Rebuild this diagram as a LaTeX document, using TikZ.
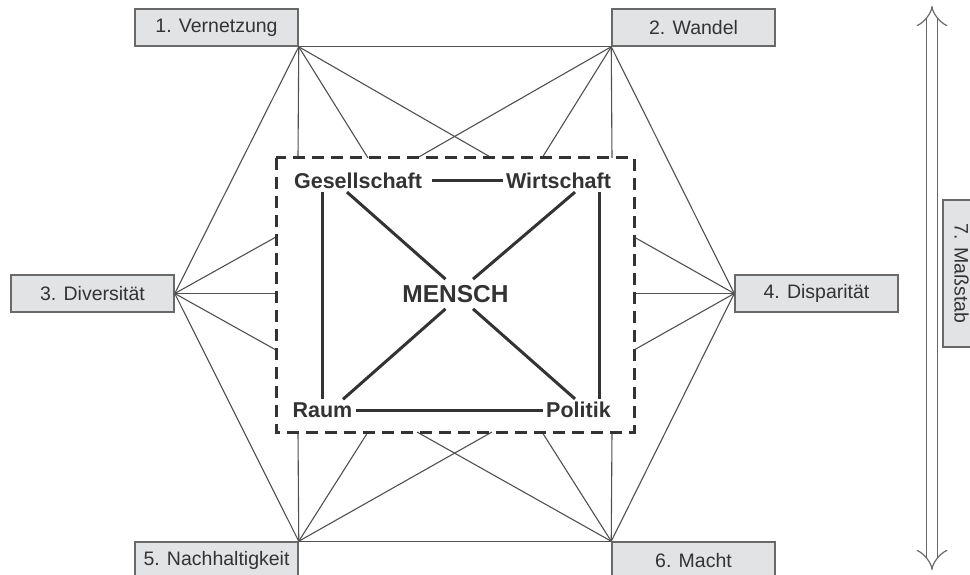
\documentclass[tikz,border=0pt]{standalone}
\usepackage{fontspec}
\setmainfont{Liberation Sans}
\usepackage{tikz}
\usetikzlibrary{arrows.meta}
\definecolor{boxfill}{RGB}{226,227,229}
\definecolor{boxline}{RGB}{105,105,105}
\definecolor{linegray}{RGB}{80,80,80}
\definecolor{darktext}{RGB}{51,51,51}
\tikzset{topic/.style = {shape=rectangle, draw=boxline, line width=1.5pt, fill=boxfill, text=darktext,
                         minimum width=163pt, minimum height=37pt, inner sep=0pt,
                         font=\fontsize{19.5}{23}\selectfont}}
\tikzset{field/.style = {text=darktext, inner sep=3pt, font=\fontsize{21.5}{25}\selectfont\bfseries}}
\tikzset{spoke/.style = {draw=linegray, line width=1.1pt}}
\tikzset{bond/.style = {draw=darktext, line width=3pt}}
\tikzset{frame/.style = {draw=darktext, line width=3pt, dash pattern=on 12pt off 7pt}}

\begin{document}
\begin{tikzpicture}[x=1pt, y=-1pt]
  \useasboundingbox (0,0) rectangle (970,575);

  % points on the dashed frame
  \foreach \x [count=\i] in {298,368,417,492,542,612} {
    \coordinate (t\i) at (\x,158);
    \coordinate (b\i) at (\x,432);
  }
  \foreach \y [count=\i] in {237,293.5,350} {
    \coordinate (l\i) at (276,\y);
    \coordinate (r\i) at (634,\y);
  }

  \node[topic] (v1) at (216.5,27.5) {1. Vernetzung};
  \node[topic] (w2) at (693.5,27.5) {2. Wandel};
  \node[topic] (d3) at (92.5,293.5) {3. Diversität};
  \node[topic] (d4) at (816.5,293.5) {4. Disparität};
  \node[topic] (n5) at (216.5,560.5) {5. Nachhaltigkeit};
  \node[topic] (m6) at (693.5,560.5) {6. Macht};
  \node[topic, rotate=-90, minimum width=147pt] (s7) at (961.5,273.5) {7. Maßstab};

  \foreach \p in {w2.south west, d3.east, t1, t2, t4}
    \draw[spoke] (v1.south east) -- (\p);
  \foreach \p in {t3, t5, t6, d4.west}
    \draw[spoke] (w2.south west) -- (\p);
  \foreach \p in {l1, l2, l3, n5.north east}
    \draw[spoke] (d3.east) -- (\p);
  \foreach \p in {r1, r2, r3, m6.north west}
    \draw[spoke] (d4.west) -- (\p);
  \foreach \p in {b1, b2, b4, m6.north west}
    \draw[spoke] (n5.north east) -- (\p);
  \foreach \p in {b3, b5, b6}
    \draw[spoke] (m6.north west) -- (\p);

  \draw[frame] (l1 |- t1) rectangle (r3 |- b1);

  \node[field] (ges) at (358,181) {Gesellschaft};
  \node[field] (wir) at (558.5,181) {Wirtschaft};
  \node[field] (raum) at (322.5,410) {Raum};
  \node[field] (pol) at (578.5,410) {Politik};
  \node[field, inner sep=6pt, font=\fontsize{24.5}{28}\selectfont\bfseries] (mensch) at (455.5,294) {MENSCH};

  \draw[bond, shorten <=7pt] (ges.east) -- (wir.west);
  \draw[bond] (raum.east) -- (pol.west);
  \draw[bond] (raum.north) -- (raum.north |- ges.south);
  \draw[bond] ([xshift=-14pt]pol.north east) -- ([xshift=-14pt]pol.north east |- wir.south);
  \draw[bond] ([xshift=-11pt]ges.south) -- ([xshift=-10pt]mensch.north);
  \draw[bond] ([xshift=16.5pt]wir.south) -- ([xshift=17.5pt]mensch.north);
  \draw[bond] ([xshift=20.5pt]raum.north) -- ([xshift=-10pt]mensch.south);
  \draw[bond] ([xshift=-3.5pt]pol.north) -- ([xshift=17.5pt]mensch.south);

  % scale arrow
  \coordinate (top) at (932,6);
  \coordinate (bot) at (932,570);
  \draw[boxline, line width=1.2pt, double=white, double distance=10pt,
        {Implies[length=9pt, width=24pt]}-{Implies[length=9pt, width=24pt]}] (top) -- (bot);
\end{tikzpicture}
\end{document}
